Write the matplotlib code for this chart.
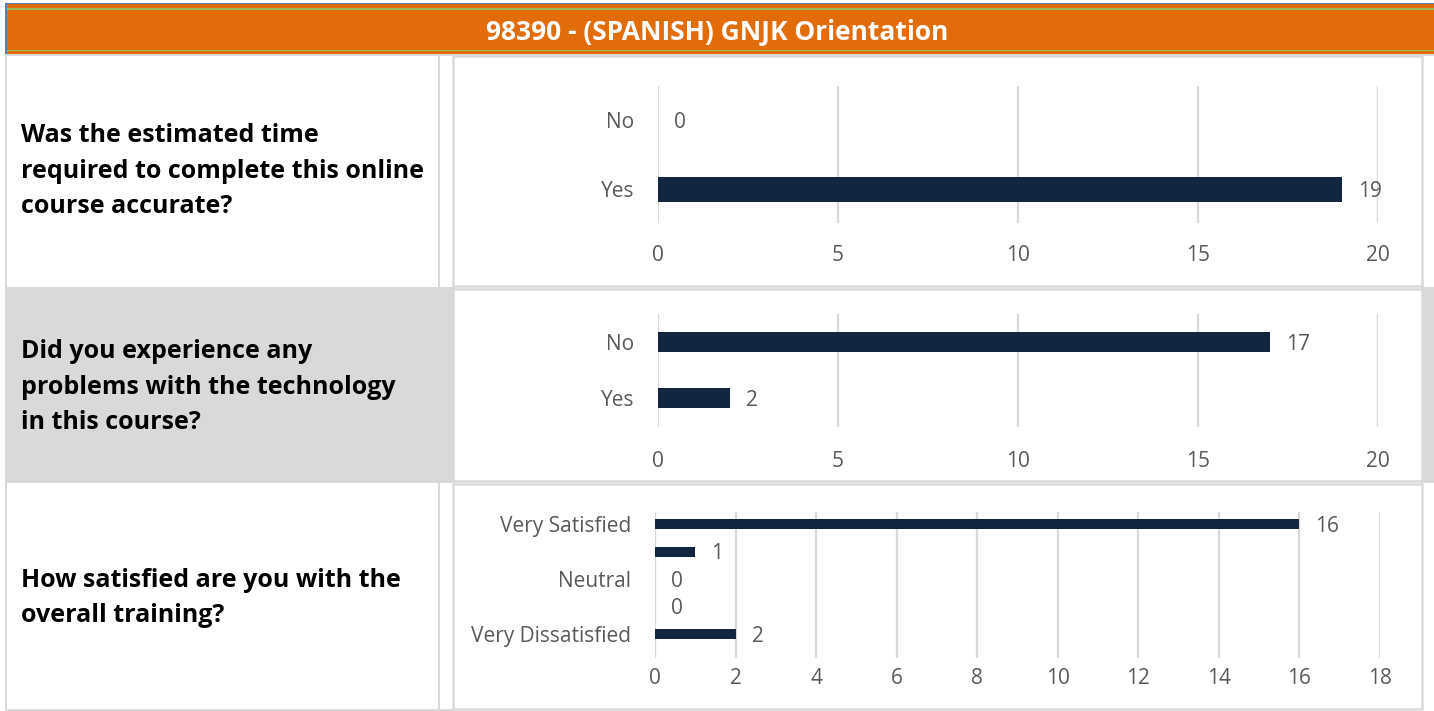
import matplotlib
matplotlib.use("Agg")
import matplotlib.pyplot as plt
from matplotlib.patches import Rectangle

plt.rcParams['font.family'] = ['Open Sans', 'DejaVu Sans']

W, H = 1434, 711

title = "98390 - (SPANISH) GNJK Orientation"

q1_text = "Was the estimated time\nrequired to complete this online\ncourse accurate?"
q1_cats = ["Yes", "No"]
q1_vals = [19, 0]
q1_ticks = [0, 5, 10, 15, 20]

q2_text = "Did you experience any\nproblems with the technology\nin this course?"
q2_cats = ["Yes", "No"]
q2_vals = [2, 17]
q2_ticks = [0, 5, 10, 15, 20]

q3_text = "How satisfied are you with the\noverall training?"
q3_cats = ["Very Dissatisfied", "Dissatisfied", "Neutral", "Satisfied", "Very Satisfied"]
q3_vals = [2, 0, 0, 1, 16]
q3_ticks = [0, 2, 4, 6, 8, 10, 12, 14, 16, 18]

ORANGE = "#e26b0a"
GREEN = "#9bbb59"
BLUE = "#4f81bd"
GRAY = "#d9d9d9"
NAVY = "#12263f"
TXT = "#595959"

fig = plt.figure(figsize=(W / 100, H / 100), dpi=100)
fig.patch.set_facecolor("white")


def box(x0, y0, x1, y1, **kw):
    # pixel coords, origin top-left
    r = Rectangle((x0 / W, 1 - y1 / H), (x1 - x0) / W, (y1 - y0) / H,
                  transform=fig.transFigure, zorder=-5, **kw)
    fig.add_artist(r)
    return r


def axes_px(x0, y0, x1, y1):
    return fig.add_axes([x0 / W, 1 - y1 / H, (x1 - x0) / W, (y1 - y0) / H])


# header band
box(5, 3, W, 4.5, facecolor=BLUE, edgecolor="none")
box(5, 3, 7, 54, facecolor=BLUE, edgecolor="none")
box(7, 4.5, W, 54, facecolor=ORANGE, edgecolor="none")
box(7, 8, W, 9.5, facecolor=GREEN, edgecolor="none")
box(7, 49.5, W, 51, facecolor=GREEN, edgecolor="none")
box(5, 54, W, 56, facecolor=GRAY, edgecolor="none")
fig.text(717 / W, 1 - 32 / H, title, color="white", fontsize=19,
         fontweight="bold", ha="center", va="center")

# left column grid
box(5, 56, 7, H, facecolor=GRAY, edgecolor="none")
box(438, 56, 440, 287, facecolor=GRAY, edgecolor="none")
box(438, 483, 440, H, facecolor=GRAY, edgecolor="none")
box(7, 287, 455, 483, facecolor=GRAY, edgecolor="none")
box(1421, 287, W, 483, facecolor=GRAY, edgecolor="none")
box(5, 709, 455, H, facecolor=GRAY, edgecolor="none")

# chart panels
for (y0, y1) in [(56, 286), (289, 481), (484, 709)]:
    box(453, y0, 1422, y1, facecolor="white", edgecolor=GRAY, linewidth=1.8)

# question texts
for text, yc in [(q1_text, 171), (q2_text, 387), (q3_text, 598)]:
    fig.text(21 / W, 1 - yc / H, text, fontsize=18, fontweight="bold",
             color="black", ha="left", va="center", linespacing=1.56)


def bar_chart(rect, cats, vals, ticks, ylim, labels, xpad):
    ax = axes_px(*rect)
    pos = list(range(len(cats)))
    ax.barh(pos, vals, height=0.36, color=NAVY, zorder=3)
    ax.set_xlim(ticks[0], ticks[-1])
    ax.set_ylim(*ylim)
    ax.set_xticks(ticks)
    ax.set_yticks(pos)
    ax.set_yticklabels(labels)
    ax.grid(axis="x", color=GRAY, linewidth=1.6, zorder=0)
    ax.set_axisbelow(True)
    for s in ax.spines.values():
        s.set_visible(False)
    ax.tick_params(axis="both", length=0, labelsize=15, colors=TXT)
    ax.tick_params(axis="x", pad=xpad)
    ax.tick_params(axis="y", pad=17)
    ax.patch.set_alpha(0)
    for p, v in zip(pos, vals):
        ax.annotate(str(v), xy=(v, p), xytext=(11.5, -1.5),
                    textcoords="offset points", ha="left", va="center",
                    fontsize=15, color=TXT)
    return ax


bar_chart((658, 86, 1378, 223), q1_cats, q1_vals, q1_ticks, (-0.49, 1.5),
          q1_cats, 15.5)
bar_chart((658, 314, 1378, 427), q2_cats, q2_vals, q2_ticks, (-0.51, 1.5),
          q2_cats, 17.5)
q3_labels = [c if i % 2 == 0 else "" for i, c in enumerate(q3_cats)]
bar_chart((655, 512, 1380, 658), q3_cats, q3_vals, q3_ticks, (-0.87, 4.44),
          q3_labels, 7.5)

fig.savefig("out.png", dpi=100)
